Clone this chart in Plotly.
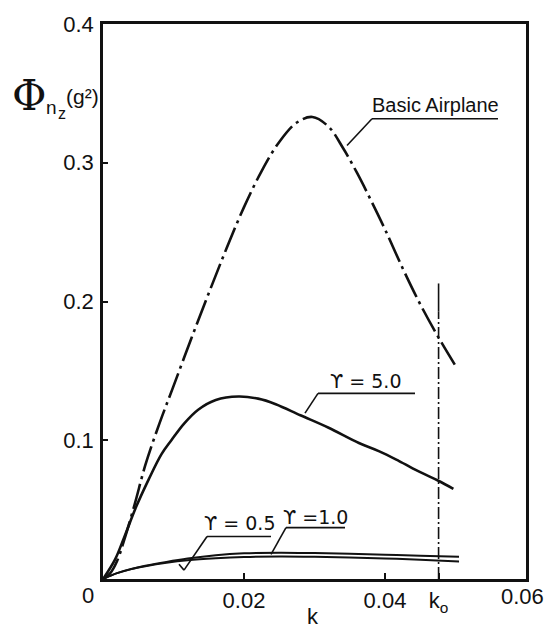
import plotly.graph_objects as go

# ---------------- data ----------------
k_basic = [0, 0.001, 0.002, 0.003, 0.0045, 0.006, 0.008, 0.010, 0.0125, 0.015, 0.0175,
           0.020, 0.0225, 0.025, 0.0275, 0.0297, 0.032, 0.034, 0.036, 0.038, 0.040,
           0.0425, 0.045, 0.0476, 0.0502]
phi_basic = [0, 0.004, 0.013, 0.028, 0.054, 0.082, 0.112, 0.139, 0.173, 0.206, 0.238,
             0.268, 0.294, 0.315, 0.329, 0.333, 0.326, 0.311, 0.293, 0.273, 0.252,
             0.224, 0.198, 0.174, 0.152]

k_g5 = [0, 0.0017, 0.003, 0.0047, 0.0065, 0.0083, 0.0097, 0.0115, 0.0135, 0.016, 0.0192,
        0.022, 0.0245, 0.028, 0.032, 0.0363, 0.0392, 0.042, 0.045, 0.0475, 0.0497]
phi_g5 = [0, 0.014, 0.030, 0.052, 0.072, 0.090, 0.100, 0.112, 0.122, 0.129, 0.1315,
          0.130, 0.126, 0.118, 0.109, 0.098, 0.092, 0.085, 0.077, 0.071, 0.065]

k_low = [0, 0.002, 0.004, 0.006, 0.009, 0.012, 0.016, 0.020, 0.025, 0.030, 0.035, 0.040, 0.045, 0.0505]
phi_g1 = [0, 0.0042, 0.0072, 0.0095, 0.0123, 0.0147, 0.0171, 0.0185, 0.019, 0.0187, 0.0182, 0.0175, 0.0167, 0.016]
phi_g05 = [0, 0.0042, 0.0071, 0.0092, 0.0117, 0.0135, 0.0149, 0.0158, 0.0162, 0.0160, 0.0155, 0.0148, 0.0139, 0.0126]

k0 = 0.0476
k0_top = 0.213
k0_split = 0.193

x_ticks = [0.02, 0.04, k0]
x_ticktext = ["0.02", "0.04", "k<sub>o</sub>"]
y_ticks = [0.1, 0.2, 0.3, 0.4]
y_ticktext = ["0.1", "0.2", "0.3", "0.4"]

# ---------------- geometry helpers (pixel -> coords) ----------------
W, H = 544, 628
L, R, T, B = 103, 526, 19, 581
XMAX, YMAX = 0.06, 0.4

def dx(px):
    return (px - L) / (R - L) * XMAX

def dy(py):
    return (B - py) / (B - T) * YMAX

def px_(px):
    return (px - L) / (R - L)

def py_(py):
    return (B - py) / (B - T)

FONT = "Liberation Sans"
GFONT = "DejaVu Sans"
BLACK = "#111111"

fig = go.Figure()

fig.add_trace(go.Scatter(x=k_basic, y=phi_basic, mode="lines", line_shape="spline",
                         line=dict(color=BLACK, width=2.6, dash="26px,5px,3px,5px"),
                         name="Basic Airplane"))
fig.add_trace(go.Scatter(x=k_g5, y=phi_g5, mode="lines", line_shape="spline",
                         line=dict(color=BLACK, width=2.6), name="γ=5.0"))
fig.add_trace(go.Scatter(x=k_low, y=phi_g1, mode="lines", line_shape="spline",
                         line=dict(color=BLACK, width=2.0), name="γ=1.0"))
fig.add_trace(go.Scatter(x=k_low, y=phi_g05, mode="lines", line_shape="spline",
                         line=dict(color=BLACK, width=2.0), name="γ=0.5"))
# k0 reference line
fig.add_trace(go.Scatter(x=[k0, k0], y=[k0_split, k0_top], mode="lines",
                         line=dict(color=BLACK, width=1.6)))
fig.add_trace(go.Scatter(x=[k0, k0], y=[0, k0_split], mode="lines",
                         line=dict(color=BLACK, width=1.6, dash="12px,3px,2px,3px")))

# ---------------- leader lines ----------------
def seg(p1, p2, w=1.6):
    fig.add_shape(type="line", xref="x", yref="y",
                  x0=dx(p1[0]), y0=dy(p1[1]), x1=dx(p2[0]), y1=dy(p2[1]),
                  line=dict(color=BLACK, width=w))

# Basic Airplane
seg((347, 142), (372, 115))
seg((372, 115), (498, 115))
# gamma 5.0
seg((305, 413), (318, 393))
seg((318, 393), (415, 393))
# gamma 1.0
seg((271, 556), (286, 529))
seg((286, 529), (345, 529))
# gamma 0.5
seg((184, 572), (207, 538))
seg((207, 538), (271, 538))
seg((179, 566), (184, 572))

def label(text, px, py, size=20, xanchor="center", yanchor="middle", family=FONT):
    fig.add_annotation(text=text, xref="paper", yref="paper", x=px_(px), y=py_(py),
                       showarrow=False, xanchor=xanchor, yanchor=yanchor,
                       font=dict(family=family, size=size, color=BLACK))

label("Basic Airplane", 435, 101, size=20)
label("ϒ = 5.0", 366, 381, size=19, family=GFONT)
label("ϒ =1.0", 315, 518, size=19, family=GFONT)
label("ϒ = 0.5", 240, 524, size=19, family=GFONT)

# axis label Phi_nz (g^2)
label("Φ", 29, 91, size=42, family="DejaVu Serif")
label("n", 51, 104, size=19)
label("z", 62, 110, size=16)
label("(g²)", 82, 92, size=21)
# origin, right end tick label and k
label("0", 88, 598, size=22)
label("0.06", 522, 599, size=22)
label("k", 313, 619, size=22)

fig.update_layout(
    width=W, height=H,
    margin=dict(l=L, r=W - R, t=T, b=H - B),
    paper_bgcolor="white", plot_bgcolor="white",
    showlegend=False,
    font=dict(family=FONT, size=20, color=BLACK),
)
fig.update_xaxes(range=[0, XMAX], showgrid=False, zeroline=False,
                 showline=True, mirror=True, linecolor=BLACK, linewidth=2.5,
                 tickvals=x_ticks, ticktext=x_ticktext, ticks="inside", ticklen=6,
                 tickwidth=1.5, tickcolor=BLACK, ticklabelstandoff=0,
                 tickfont=dict(family=FONT, size=22, color=BLACK))
fig.update_yaxes(range=[0, YMAX], showgrid=False, zeroline=False,
                 showline=True, mirror=True, linecolor=BLACK, linewidth=2.5,
                 tickvals=y_ticks, ticktext=y_ticktext, ticks="inside", ticklen=5,
                 tickwidth=1.5, tickcolor=BLACK, ticklabelstandoff=2,
                 tickfont=dict(family=FONT, size=22, color=BLACK))

fig.write_html("out.html")
